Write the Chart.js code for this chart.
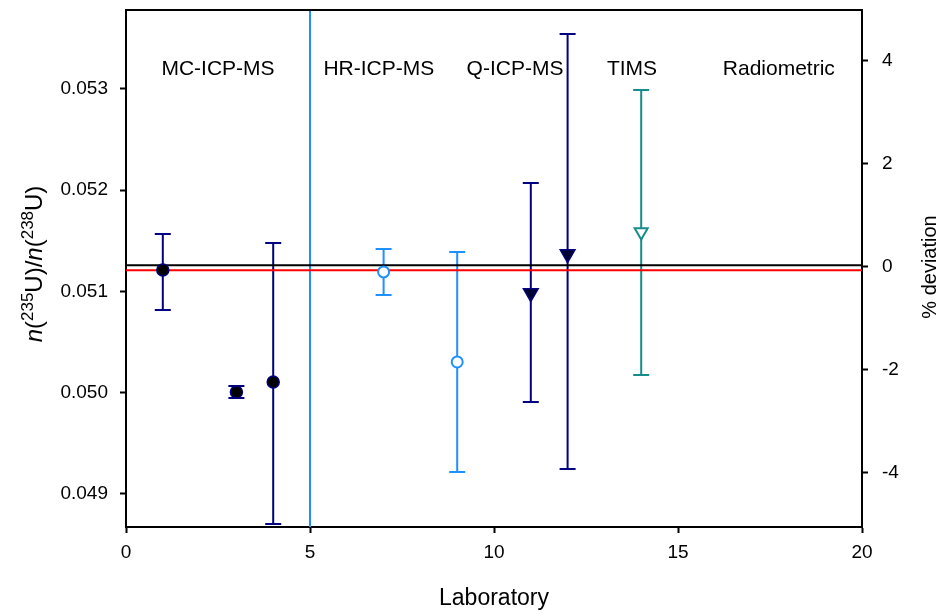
<!DOCTYPE html>
<html>
<head>
<meta charset="utf-8">
<script src="https://cdn.jsdelivr.net/npm/chart.js@4/dist/chart.umd.min.js"></script>
<style>
  html, body { margin: 0; padding: 0; background: #fff; }
  #wrap { width: 942px; height: 614px; }
</style>
</head>
<body>
<div id="wrap"><canvas id="chart"></canvas></div>
<script>
// MC-ICP-MS
var mcLabs = [1, 3, 4];
var mcValues = [0.051212, 0.050007, 0.050106];
var mcLow = [0.050817, 0.049948, 0.048704];
var mcHigh = [0.051568, 0.050066, 0.051479];
// HR-ICP-MS
var hrLabs = [7, 9];
var hrValues = [0.051193, 0.050304];
var hrLow = [0.050965, 0.049217];
var hrHigh = [0.051420, 0.051390];
// Q-ICP-MS
var qLabs = [11, 12];
var qValues = [0.050985, 0.051370];
var qLow = [0.049909, 0.049247];
var qHigh = [0.052072, 0.053543];
// TIMS
var timsLabs = [14];
var timsValues = [0.051588];
var timsLow = [0.050175];
var timsHigh = [0.052990];

var refValue = 0.05126;
var meanValue = 0.05121;
var separatorLab = 5;

var methodNames = ['MC-ICP-MS', 'HR-ICP-MS', 'Q-ICP-MS', 'TIMS', 'Radiometric'];
var methodLabPos = [2.5, 6.87, 10.57, 13.75, 17.74];
var methodRatioPos = 0.053198;

var xTicks = [0, 5, 10, 15, 20];
var ratioTicks = [0.049, 0.050, 0.051, 0.052, 0.053];
var deviationTicks = [-4, -2, 0, 2, 4];

var navy = '#000080';
var lightBlue = '#1E90FF';
var teal = '#178C8C';
var yMin = 0.048674, yMax = 0.05378;
var fam = '"Liberation Sans", Arial, sans-serif';

function pts(labs, vals) {
  return labs.map(function (l, i) { return { x: l, y: vals[i] }; });
}

var groups = [
  { labs: mcLabs, low: mcLow, high: mcHigh, color: navy },
  { labs: hrLabs, low: hrLow, high: hrHigh, color: lightBlue },
  { labs: qLabs, low: qLow, high: qHigh, color: navy },
  { labs: timsLabs, low: timsLow, high: timsHigh, color: teal }
];

var errorBars = {
  id: 'errorBars',
  beforeDatasetsDraw: function (chart) {
    var ctx = chart.ctx, x = chart.scales.x, y = chart.scales.y;
    groups.forEach(function (g) {
      ctx.save();
      ctx.strokeStyle = g.color;
      ctx.lineWidth = 2;
      g.labs.forEach(function (lab, i) {
        var px = x.getPixelForValue(lab);
        var t = y.getPixelForValue(g.high[i]);
        var b = y.getPixelForValue(g.low[i]);
        ctx.beginPath();
        ctx.moveTo(px, t); ctx.lineTo(px, b);
        ctx.moveTo(px - 8, t); ctx.lineTo(px + 8, t);
        ctx.moveTo(px - 8, b); ctx.lineTo(px + 8, b);
        ctx.stroke();
      });
      ctx.restore();
    });
  }
};

var extras = {
  id: 'extras',
  afterDraw: function (chart) {
    var ctx = chart.ctx, a = chart.chartArea, x = chart.scales.x, y = chart.scales.y;
    ctx.save();
    // top frame line
    ctx.strokeStyle = '#000';
    ctx.lineWidth = 2;
    ctx.beginPath();
    ctx.moveTo(a.left, a.top); ctx.lineTo(a.right, a.top);
    ctx.stroke();

    // method labels
    ctx.fillStyle = '#000';
    ctx.font = '21px ' + fam;
    ctx.textAlign = 'center';
    ctx.textBaseline = 'middle';
    methodNames.forEach(function (n, i) {
      ctx.fillText(n, x.getPixelForValue(methodLabPos[i]), y.getPixelForValue(methodRatioPos));
    });

    // x title
    ctx.font = '23px ' + fam;
    ctx.fillText('Laboratory', (a.left + a.right) / 2, 599);

    // right title
    ctx.save();
    ctx.translate(930, 267);
    ctx.rotate(-Math.PI / 2);
    ctx.font = '20px ' + fam;
    ctx.fillText('% deviation', 0, 0);
    ctx.restore();

    // left title n(235U)/n(238U)
    var big = '24px ' + fam;
    var it = 'italic 24px ' + fam;
    var sm = '17px ' + fam;
    var parts = [
      [it, 'n', 0], [big, '(', 0], [sm, '235', -9], [big, 'U)/', 0],
      [it, 'n', 0], [big, '(', 0], [sm, '238', -9], [big, 'U)', 0]
    ];
    var total = 0;
    parts.forEach(function (p) { ctx.font = p[0]; total += ctx.measureText(p[1]).width; });
    ctx.save();
    ctx.translate(42, 264);
    ctx.rotate(-Math.PI / 2);
    ctx.textAlign = 'left';
    ctx.textBaseline = 'alphabetic';
    var cx = -total / 2;
    parts.forEach(function (p) {
      ctx.font = p[0];
      ctx.fillText(p[1], cx, p[2]);
      cx += ctx.measureText(p[1]).width;
    });
    ctx.restore();
    ctx.restore();
  }
};

var tickFont = { family: fam, size: 19 };

function noPad(s) { s.paddingTop = 0; s.paddingBottom = 0; }

var config = {
  type: 'scatter',
  data: {
    datasets: [
      { data: [{ x: 0, y: refValue }, { x: 20, y: refValue }], type: 'line', borderColor: '#000', borderWidth: 2, pointRadius: 0, order: 10 },
      { data: [{ x: 0, y: meanValue }, { x: 20, y: meanValue }], type: 'line', borderColor: '#ff0000', borderWidth: 2, pointRadius: 0, order: 10 },
      { data: [{ x: separatorLab, y: yMin }, { x: separatorLab, y: yMax }], type: 'line', borderColor: lightBlue, borderWidth: 2, pointRadius: 0, order: 10 },
      { data: pts(mcLabs, mcValues), pointStyle: 'circle', pointRadius: 6, backgroundColor: '#000', borderColor: navy, borderWidth: 1.5, order: 0 },
      { data: pts(hrLabs, hrValues), pointStyle: 'circle', pointRadius: 5.5, backgroundColor: '#fff', borderColor: lightBlue, borderWidth: 2, order: 0 },
      { data: pts(qLabs, qValues), pointStyle: 'triangle', rotation: 180, pointRadius: 8.5, backgroundColor: '#000030', borderColor: navy, borderWidth: 1.5, order: 0 },
      { data: pts(timsLabs, timsValues), pointStyle: 'triangle', rotation: 180, pointRadius: 7.5, backgroundColor: '#fff', borderColor: teal, borderWidth: 2, order: 0 }
    ]
  },
  options: {
    responsive: true,
    maintainAspectRatio: false,
    animation: false,
    layout: { padding: { top: 10, left: 0, right: 0, bottom: 0 } },
    plugins: { legend: { display: false }, tooltip: { enabled: false } },
    scales: {
      x: {
        type: 'linear', min: 0, max: 20,
        afterBuildTicks: function (s) { s.ticks = xTicks.map(function (v) { return { value: v }; }); },
        afterFit: function (s) { s.height = 87; s.paddingLeft = 0; s.paddingRight = 0; },
        grid: { drawOnChartArea: false, tickLength: 6, tickColor: '#000', tickWidth: 2 },
        border: { color: '#000', width: 2 },
        ticks: { color: '#000', font: tickFont, padding: 8 }
      },
      y: {
        type: 'linear', position: 'left', min: yMin, max: yMax,
        afterBuildTicks: function (s) { s.ticks = ratioTicks.map(function (v) { return { value: v }; }); },
        afterFit: function (s) { s.width = 126; noPad(s); },
        grid: { drawOnChartArea: false, tickLength: 6, tickColor: '#000', tickWidth: 2 },
        border: { color: '#000', width: 2 },
        ticks: { color: '#000', font: tickFont, padding: 12, callback: function (v) { return v.toFixed(3); } }
      },
      y2: {
        type: 'linear', position: 'right', min: -5.05, max: 4.99,
        afterBuildTicks: function (s) { s.ticks = deviationTicks.map(function (v) { return { value: v }; }); },
        afterFit: function (s) { s.width = 80; noPad(s); },
        grid: { drawOnChartArea: false, tickLength: 6, tickColor: '#000', tickWidth: 2 },
        border: { color: '#000', width: 2 },
        ticks: { color: '#000', font: tickFont, padding: 14 }
      }
    }
  },
  plugins: [errorBars, extras]
};

window.onload = function () {
  var c = document.getElementById('chart').getContext('2d');
  window.myChart = new Chart(c, config);
};
</script>
</body>
</html>
